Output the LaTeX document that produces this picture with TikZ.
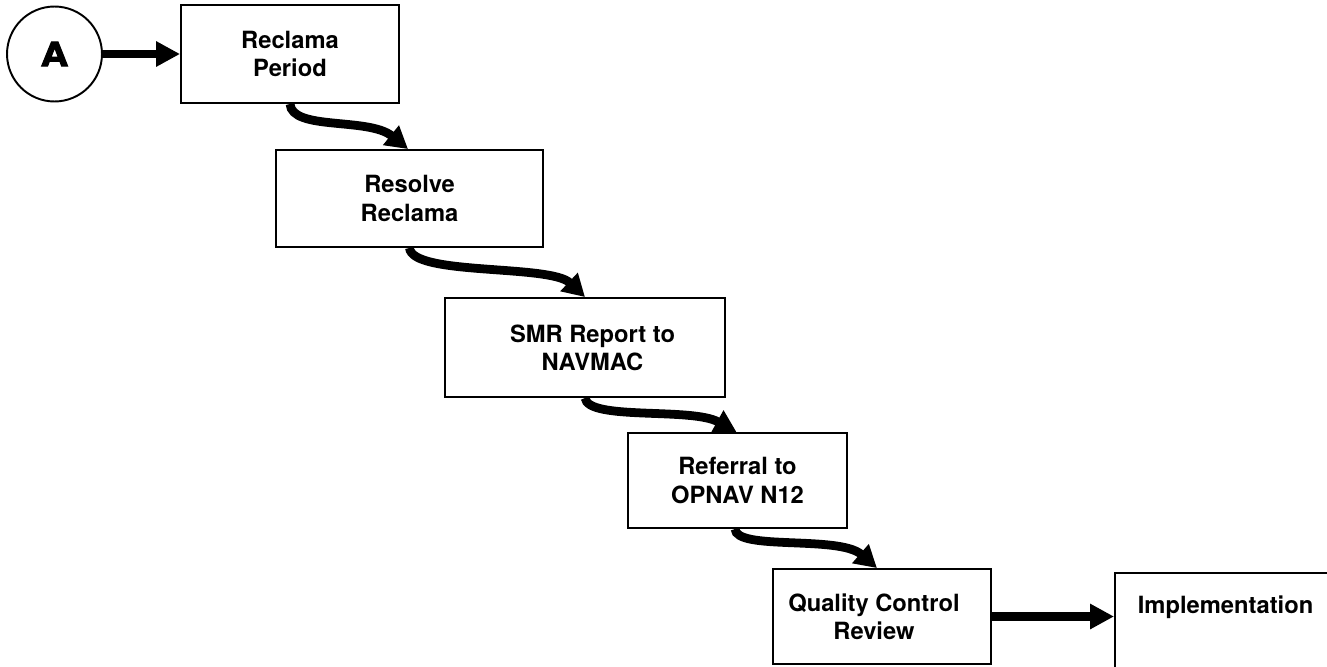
\documentclass[tikz,border=0pt]{standalone}
\usepackage{fontspec}
\setmainfont{TeX Gyre Heros}
\newfontfamily\heavyfont{TeX Gyre Heros}[BoldFeatures={FakeBold=3}]
\usetikzlibrary{arrows.meta}
\tikzset{
  stepbox/.style={draw, line width=1.1pt, fill=white, inner sep=0pt, align=center,
    font=\fontsize{13.5}{16}\selectfont\bfseries},
  flow/.style={line width=5pt, -{Triangle[length=0.44cm,width=0.48cm]}},
  sflow/.style={line width=5pt, -{Triangle[length=0.48cm,width=0.48cm]}},
  lbl/.style={font=\fontsize{13.5}{16}\selectfont\bfseries, inner sep=0pt}
}
\begin{document}
\begin{tikzpicture}[x=0.02cm,y=-0.02cm]
\useasboundingbox (0,0) rectangle (1327,666);
\clip (0,0) rectangle (1327,666);
\fill[white] (0,0) rectangle (1327,666);
\node[draw, circle, line width=1.1pt, minimum size=1.9cm, inner sep=0pt,
  font=\fontsize{19}{19}\heavyfont\bfseries] (A) at (54.5,54) {\scalebox{1.15}[1]{A}};
\node[stepbox, minimum width=4.36cm, minimum height=1.96cm] (b1) at (290,54) {Reclama\\Period};
\node[stepbox, minimum width=5.34cm, minimum height=1.94cm] (b2) at (409.5,198.5) {Resolve\\Reclama};
\node[stepbox, minimum width=5.6cm, minimum height=1.98cm] (b3) at (585,347.5)
  {\hspace*{0.3cm}SMR Report to\\\hspace*{0.3cm}NAVMAC};
\node[stepbox, minimum width=4.38cm, minimum height=1.9cm] (b4) at (737.5,480.5) {Referral to\\OPNAV N12};
\node[stepbox, minimum width=4.36cm, minimum height=1.9cm] (b5) at (882,616.5)
  {Quality Control\hspace*{0.32cm}\\Review\hspace*{0.32cm}};
\node[stepbox, minimum width=4.6cm, minimum height=2.4cm, anchor=north west] (b6) at (1114,572) {};
\node[lbl] (b6t) at (1225.5,607) {Implementation};
\draw[sflow] (A.east) -- (b1.west);
\draw[flow] (b1.south) .. controls +(2,27) and +(-39.5,-32) .. ([xshift=-0.03cm]b2.north);
\draw[flow] (b2.south) .. controls +(2.5,28) and +(-35,-33) .. (b3.north);
\draw[flow] (b3.south) .. controls +(3,23) and +(-45,-25) .. ([xshift=-0.02cm]b4.north);
\draw[flow] ([xshift=-0.05cm]b4.south) .. controls +(1,22) and +(-38,-33) .. ([xshift=-0.1cm]b5.north);
\draw[sflow] (b5.east) -- (b6.west |- b5.east);
\end{tikzpicture}
\end{document}
